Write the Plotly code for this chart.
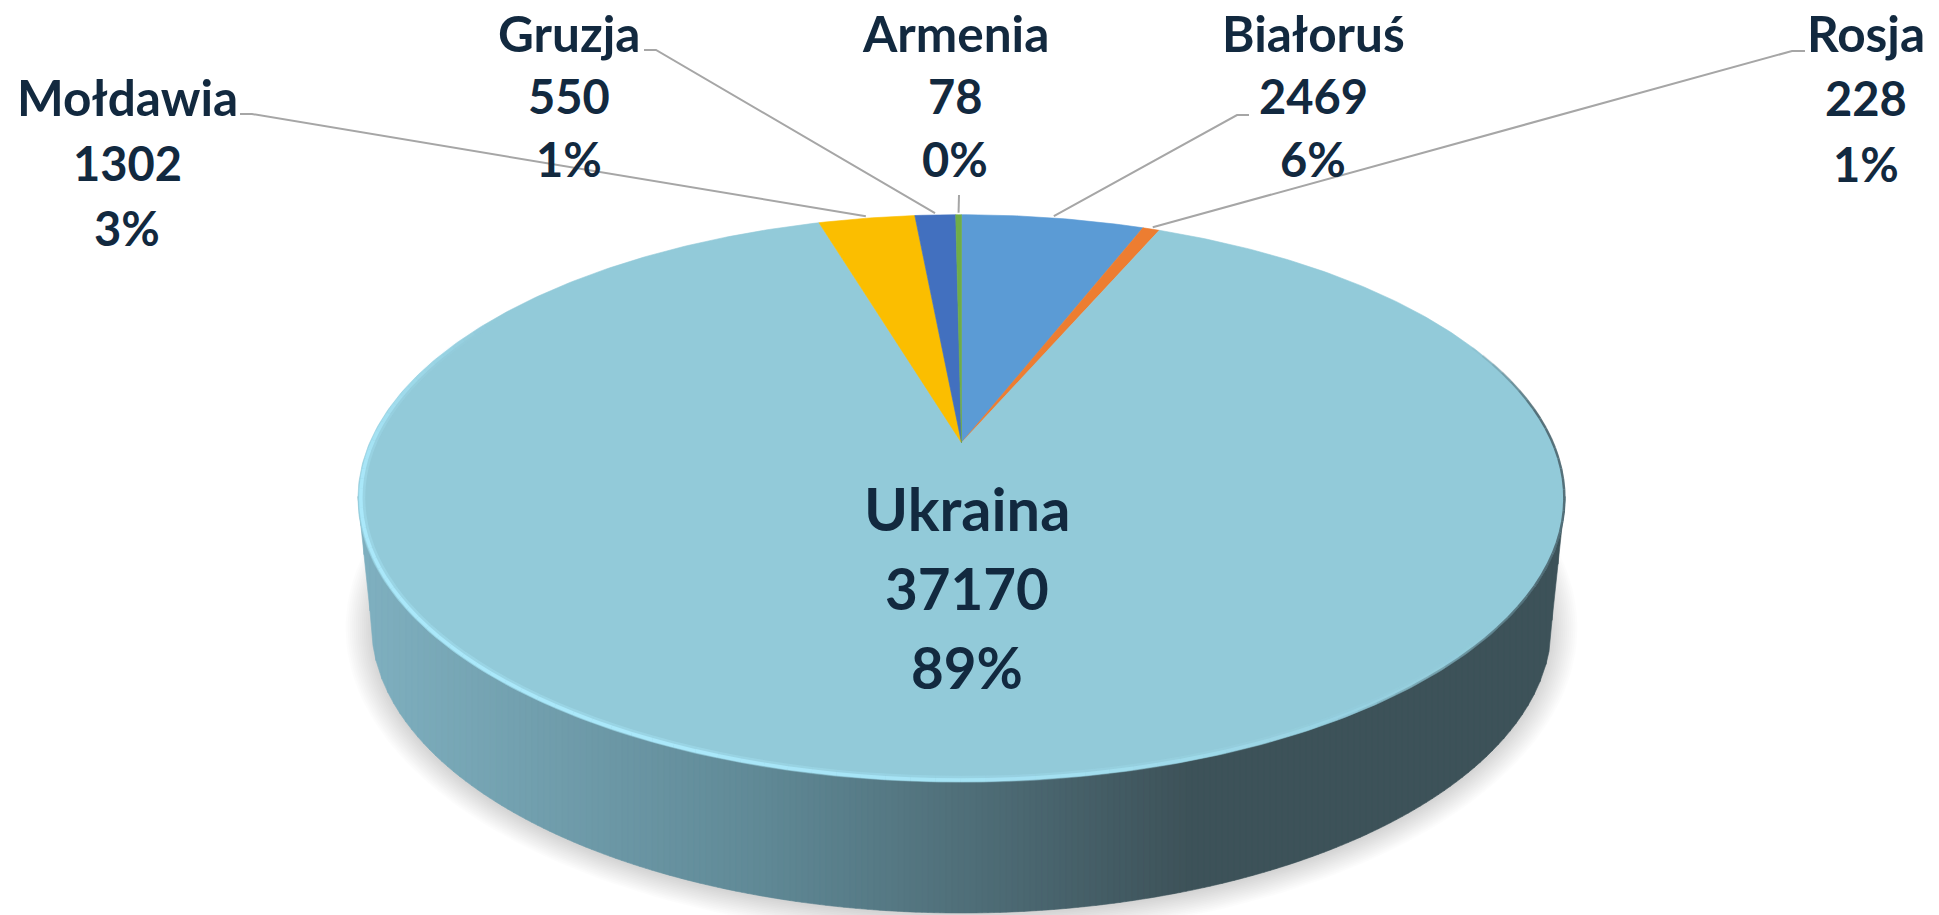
import numpy as np
import plotly.graph_objects as go

# --- data -------------------------------------------------------------
categories = ["Białoruś", "Rosja", "Ukraina", "Mołdawia", "Gruzja", "Armenia"]
values = [2469, 228, 37170, 1302, 550, 78]
slice_colors = ["#5B9BD5", "#ED7D31", "#92CAD9", "#FBBE00", "#4270BF", "#70AD47"]

# --- layout of the drawing (page pixels) ------------------------------
W, H = 1939, 915
CX, AY = 961.5, 442.7      # apex of the pie
A, B, K = 591.8, 272.7, 0.196   # perspective of the tilted disc
BOT_CX, BOT_CY, BOT_A, BOT_B = 961.5, 625.0, 590.0, 288.0
TEXT = "#12293F"
LEADER = "#A6A6A6"
FONT = "Lato"
FS = 49.5
FS_BIG = 59.5
NUM_SCALE = 0.95           # the figures are a little narrower than the names
# label centre x, first line y, line pitch; leader start and elbow
label_place = {
    "Białoruś": (1313, 32.5, 63, (1249, 115), (1237, 115)),
    "Rosja": (1866, 32.5, 65.5, (1805, 51), (1792, 51)),
    "Ukraina": (967, 508, 79.5, None, None),
    "Mołdawia": (127, 97, 65.5, (240, 114), (252, 114)),
    "Gruzja": (569, 32.5, 63, (644, 50), (656, 50)),
    "Armenia": (955, 32.5, 63, (959, 195), (959, 195)),
}


def proj(theta, r=1.0):
    """theta clockwise from the top of the disc, radians"""
    u, v = r * np.sin(theta), r * np.cos(theta)
    d = 1 + K * v
    return CX + A * u / d, AY - B * v / d


fig = go.Figure()


def poly(xs, ys, color):
    fig.add_trace(go.Scatter(x=xs, y=ys, mode="lines", fill="toself", fillcolor=color,
                             line=dict(color=color, width=0.6), hoverinfo="skip", showlegend=False))


# soft shadow under the disc
tt = np.linspace(0, 2 * np.pi, 241)
for i in range(14):
    g = 26 - i * 2
    fig.add_trace(go.Scatter(
        x=BOT_CX + (BOT_A + g) * np.cos(tt), y=BOT_CY + 3 + (BOT_B + g * 0.85) * np.sin(tt),
        mode="lines", fill="toself", fillcolor="rgba(0,0,0,0.011)", line=dict(width=0),
        hoverinfo="skip", showlegend=False))


# side wall, coloured from left to right in vertical bands
def wall_color(x):
    stops_x = [360, 760, 1190, 1570]
    r = np.interp(x, stops_x, [127, 96, 61, 61])
    g = np.interp(x, stops_x, [176, 137, 82, 82])
    b = np.interp(x, stops_x, [192, 150, 89, 89])
    return f"rgb({r:.0f},{g:.0f},{b:.0f})"


# find the widest points of the top face
scan = np.linspace(0, 2 * np.pi, 4001)
sx, sy = proj(scan)
i_r, i_l = int(np.argmax(sx)), int(np.argmin(sx))
edge = np.linspace(scan[i_r], scan[i_l], 600)   # right -> bottom -> left
top_x, top_y = proj(edge)
top_order = np.argsort(top_x)
arc = np.linspace(0, np.pi, 400)
bot_x = BOT_CX - BOT_A * np.cos(arc)
bot_y = BOT_CY + BOT_B * np.sin(arc)
low_x = np.concatenate([[sx[i_l]], bot_x, [sx[i_r]]])
low_y = np.concatenate([[sy[i_l]], bot_y, [sy[i_r]]])

strips = np.arange(sx[i_l], sx[i_r] + 6, 6.0)
strips[-1] = sx[i_r]
for x0, x1 in zip(strips[:-1], strips[1:]):
    xs = np.linspace(x0, x1, 3)
    up = np.interp(xs, top_x[top_order], top_y[top_order]) - 2
    lo = np.interp(xs, low_x, low_y)
    poly(list(xs) + list(xs[::-1]) + [xs[0]], list(up) + list(lo[::-1]) + [up[0]], wall_color(0.5 * (x0 + x1)))

# pie slices
total = sum(values)
angles = np.cumsum([0] + values) / total * 2 * np.pi
for name, start, end, col in zip(categories, angles[:-1], angles[1:], slice_colors):
    th = np.linspace(start, end, max(3, int((end - start) * 90)))
    ex, ey = proj(th)
    poly([CX] + list(ex) + [CX], [AY] + list(ey) + [AY], col)

# bevel: light rim at the lower left, dark rim on the right
rim_from, rim_to = np.radians(125), np.radians(300)
rim = np.linspace(rim_from, rim_to, 90)
for width, scale, radius in [(7, 0.35, 0.994), (3.5, 1.0, 0.9955)]:
    for i in range(len(rim) - 1):
        c = 0.5 * (rim[i] + rim[i + 1])
        f = min(1, (c - rim_from) / np.radians(55)) * min(1, (rim_to - c) / np.radians(40))
        if c < np.radians(200):
            f *= np.interp(c, np.radians([125, 200]), [0.45, 0.9])
        x0, y0 = proj(rim[i:i + 2], radius)
        fig.add_trace(go.Scatter(x=x0, y=y0, mode="lines", hoverinfo="skip", showlegend=False,
                                 line=dict(color=f"rgba(170,232,250,{f * scale:.2f})", width=width)))
dark = np.linspace(np.radians(68), np.radians(150), 40)
for i in range(len(dark) - 1):
    c = 0.5 * (dark[i] + dark[i + 1])
    f = 0.75 * min(1, (c - dark[0]) / np.radians(15)) * min(1, (dark[-1] - c) / np.radians(30))
    x0, y0 = proj(dark[i:i + 2], 0.999)
    fig.add_trace(go.Scatter(x=x0, y=y0, mode="lines", hoverinfo="skip", showlegend=False,
                             line=dict(color=f"rgba(61,82,89,{f:.2f})", width=2.5)))

# leader lines, ending just past the middle of each slice's rim
mids = 0.5 * (angles[:-1] + angles[1:])
for name, mid in zip(categories, mids):
    start_pt, elbow = label_place[name][3:]
    if start_pt is None:
        continue
    ex, ey = proj(mid, 1.01)
    fig.add_trace(go.Scatter(x=[start_pt[0], elbow[0], ex], y=[start_pt[1], elbow[1], ey], mode="lines",
                             hoverinfo="skip", showlegend=False,
                             line=dict(color=LEADER, width=2)))

# labels: name, value, share
for name, val in zip(categories, values):
    lx, ly, pitch = label_place[name][:3]
    size = FS_BIG if name == "Ukraina" else FS
    lines = [(name, 1.0), (str(val), NUM_SCALE), (f"{val / total * 100:.0f}%", NUM_SCALE)]
    for j, (text, scale) in enumerate(lines):
        fig.add_annotation(x=lx, y=ly + j * pitch, text=text, showarrow=False,
                           xanchor="center", yanchor="middle", xref="x", yref="y",
                           font=dict(family=FONT, size=size * scale, color=TEXT, weight=700))

fig.update_layout(
    width=W, height=H, margin=dict(l=0, r=0, t=0, b=0), autosize=False,
    paper_bgcolor="white", plot_bgcolor="white", showlegend=False,
    xaxis=dict(range=[0, W], visible=False, fixedrange=True),
    yaxis=dict(range=[H, 0], visible=False, fixedrange=True),
)
fig.write_html("out.html", default_width=f"{W}px", default_height=f"{H}px",
               config={"displayModeBar": False},
               post_script="document.body.style.margin='0';document.body.style.overflow='hidden';")
